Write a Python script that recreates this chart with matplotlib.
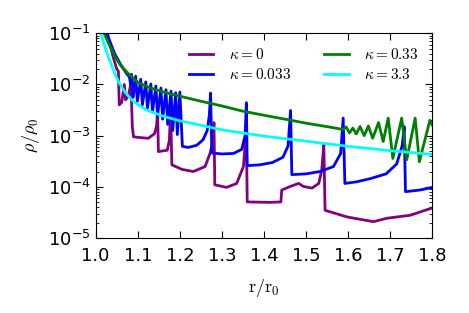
import matplotlib
matplotlib.use("Agg")
import matplotlib.pyplot as plt

plt.rcParams["mathtext.fontset"] = "cm"
plt.rcParams["font.family"] = "DejaVu Sans"
plt.rcParams["axes.unicode_minus"] = False

# --- curves (r/r0, rho/rho0) ---
r_k0 = [1.028, 1.04, 1.05, 1.054, 1.056, 1.062, 1.068, 1.071, 1.078, 1.084, 1.087,
        1.09, 1.105, 1.125, 1.14, 1.145, 1.147, 1.149, 1.17, 1.175, 1.178, 1.181,
        1.205, 1.232, 1.26, 1.272, 1.279, 1.281, 1.283, 1.311, 1.335, 1.351, 1.356,
        1.358, 1.36, 1.414, 1.44, 1.442, 1.462, 1.482, 1.494, 1.514, 1.53, 1.537,
        1.542, 1.545, 1.597, 1.66, 1.692, 1.747, 1.8]
rho_k0 = [1e-1, 3.8e-2, 2.0e-2, 1.8e-2, 4.0e-3, 4.5e-3, 1.0e-2, 5.0e-3, 6.0e-3, 1.1e-2, 1.5e-3,
          9.5e-4, 9.2e-4, 8.9e-4, 1.1e-3, 1.6e-3, 3.5e-3, 4.9e-4, 5.2e-4, 8.0e-4, 3.2e-3, 2.7e-4,
          2.2e-4, 2.0e-4, 2.5e-4, 4.6e-4, 8.3e-4, 1.8e-3, 1.1e-4, 9.8e-5, 1.17e-4, 2.5e-4, 8.3e-4,
          1.25e-3, 5.1e-5, 5.0e-5, 5.1e-5, 8.7e-5, 1.02e-4, 1.17e-4, 1.02e-4, 9.5e-5, 1.17e-4, 2.1e-4,
          6.6e-4, 3.5e-5, 2.6e-5, 2.1e-5, 2.45e-5, 2.8e-5, 3.9e-5]

r_k0033 = [1.026, 1.035, 1.045, 1.06, 1.072, 1.08, 1.083, 1.085, 1.089, 1.095, 1.099,
           1.107, 1.111, 1.119, 1.123, 1.131, 1.135, 1.143, 1.147, 1.155, 1.159, 1.167,
           1.171, 1.179, 1.183, 1.19, 1.194, 1.2, 1.206, 1.22, 1.24, 1.255, 1.265, 1.27,
           1.273, 1.276, 1.3, 1.327, 1.347, 1.355, 1.358, 1.36, 1.39, 1.42, 1.445, 1.457,
           1.463, 1.466, 1.5, 1.533, 1.565, 1.582, 1.588, 1.592, 1.62, 1.652, 1.69, 1.715,
           1.728, 1.733, 1.736, 1.77, 1.8]
rho_k0033 = [1e-1, 6.5e-2, 4.0e-2, 2.4e-2, 1.7e-2, 1.4e-2, 1.0e-2, 1.58e-2, 5.6e-3, 1.45e-2, 4.7e-3,
             1.26e-2, 4.0e-3, 1.12e-2, 3.4e-3, 1.02e-2, 2.9e-3, 9.3e-3, 2.45e-3, 8.5e-3, 2.1e-3, 7.9e-3,
             1.66e-3, 7.4e-3, 1.26e-3, 6.9e-3, 1.05e-3, 7.1e-3, 6.2e-4, 5.9e-4, 6.5e-4, 8.3e-4, 1.26e-3, 2.5e-3,
             6.8e-3, 4.6e-4, 4.4e-4, 4.5e-4, 5.4e-4, 1.0e-3, 4.4e-3, 2.6e-4, 2.7e-4, 3.0e-4, 3.8e-4, 6.3e-4,
             3.1e-3, 1.74e-4, 1.8e-4, 2.0e-4, 2.5e-4, 4.5e-4, 2.2e-3, 1.17e-4, 1.26e-4, 1.45e-4, 1.8e-4, 2.8e-4,
             6.3e-4, 1.5e-3, 8.1e-5, 8.7e-5, 9.8e-5]

r_k033 = [1.02, 1.03, 1.045, 1.06, 1.08, 1.1, 1.13, 1.17, 1.2, 1.25, 1.3, 1.35, 1.4, 1.45,
          1.5, 1.55, 1.588, 1.595, 1.603, 1.611, 1.619, 1.628, 1.638, 1.648, 1.658, 1.672,
          1.683, 1.695, 1.706, 1.727, 1.739, 1.759, 1.769, 1.794, 1.8]
rho_k033 = [1e-1, 6.5e-2, 3.6e-2, 2.3e-2, 1.55e-2, 1.1e-2, 8.5e-3, 6.8e-3, 5.9e-3, 4.7e-3, 3.8e-3,
            3.0e-3, 2.5e-3, 2.1e-3, 1.75e-3, 1.5e-3, 1.32e-3, 1.48e-3, 1.13e-3, 1.41e-3, 1.08e-3,
            1.51e-3, 1.0e-3, 1.55e-3, 8.9e-4, 1.8e-3, 7.7e-4, 2.2e-3, 3.6e-4, 2.2e-3, 3.4e-4,
            2.2e-3, 3.1e-4, 2.0e-3, 1.6e-3]

r_k33 = [1.012, 1.02, 1.03, 1.042, 1.055, 1.07, 1.09, 1.12, 1.16, 1.2, 1.25, 1.3, 1.4,
         1.5, 1.6, 1.7, 1.8]
rho_k33 = [1e-1, 6e-2, 3.5e-2, 1.9e-2, 1.1e-2, 7e-3, 4.6e-3, 3.2e-3, 2.4e-3, 1.95e-3, 1.6e-3,
           1.3e-3, 9.8e-4, 7.8e-4, 6.2e-4, 5.1e-4, 4.3e-4]

labels = [r"$\kappa=0$", r"$\kappa=0.033$", r"$\kappa=0.33$", r"$\kappa=3.3$"]
colors = ["purple", "blue", "green", "cyan"]

fig = plt.figure(figsize=(4.69, 3.13), dpi=100)
ax = fig.add_axes([0.204, 0.239, 0.718, 0.655])

series = [(r_k0, rho_k0), (r_k0033, rho_k0033), (r_k033, rho_k033), (r_k33, rho_k33)]
for (r, rho), lab, col in zip(series, labels, colors):
    ax.plot(r, rho, color=col, lw=2, label=lab)

ax.set_yscale("log")
ax.set_xlim(1.0, 1.8)
ax.set_ylim(1e-5, 1e-1)
ax.set_xticks([1.0, 1.1, 1.2, 1.3, 1.4, 1.5, 1.6, 1.7, 1.8])
ax.tick_params(which="both", direction="in", top=True, right=True, labelsize=13)
ax.tick_params(which="major", length=5)
ax.tick_params(which="minor", length=2.5)
ax.tick_params(axis="x", pad=6)

ax.set_xlabel(r"$\mathrm{r/r_0}$", fontsize=13, labelpad=9)
ax.set_ylabel(r"$\rho/\rho_0$", fontsize=13, labelpad=4)

ax.legend(loc="upper right", bbox_to_anchor=(1.0, 1.0), ncol=2, frameon=False,
          fontsize=11, handlelength=1.6, handletextpad=1.0, columnspacing=2.2,
          labelspacing=0.35)

fig.savefig("out.png", dpi=100)
